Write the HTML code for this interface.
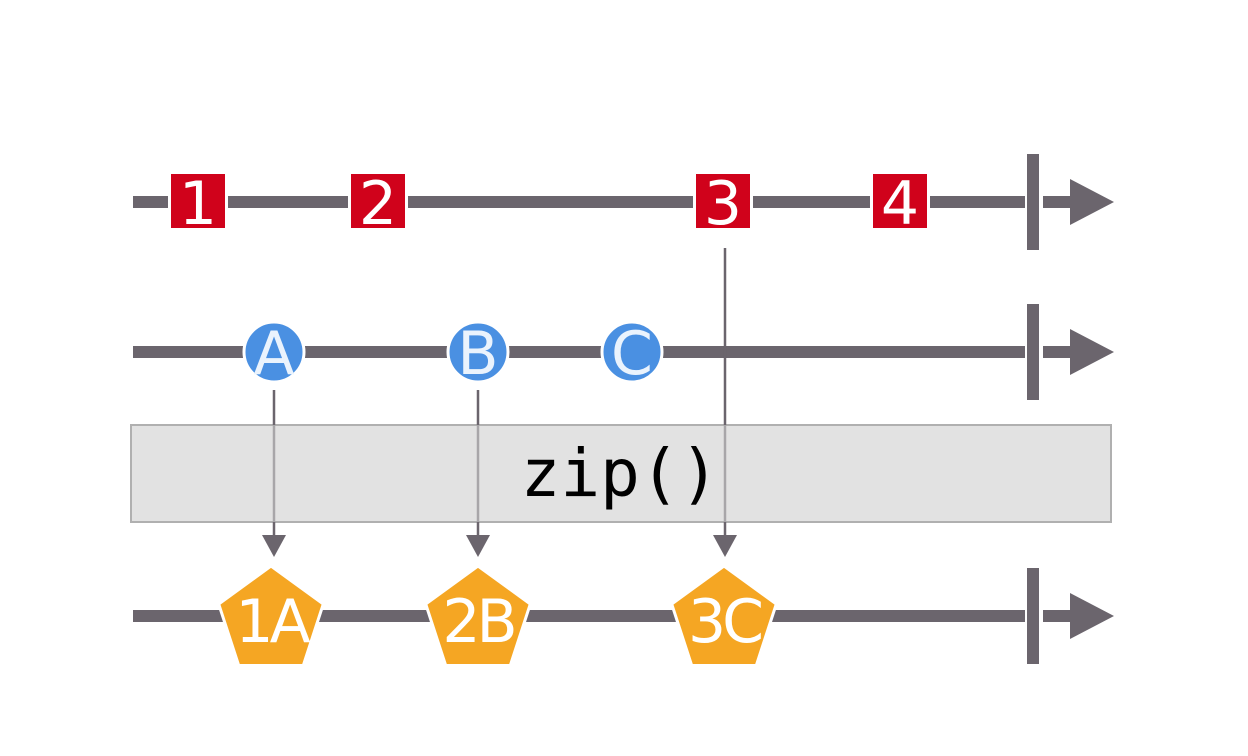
<!DOCTYPE html>
<html><head><meta charset="utf-8"><style>
html,body{margin:0;padding:0;background:#fff}
svg{display:block}
text{font-family:"DejaVu Sans","Liberation Sans",sans-serif}
</style></head><body>
<svg id="chart" width="1248" height="756" viewBox="0 0 1248 756">
</svg>
<script>
const numberLabels=['1','2','3','4'];
const numberTimes=[198,378,723,900];
const letterLabels=['A','B','C'];
const letterTimes=[274,478,632];
const resultLabels=['1A','2B','3C'];
const resultTimes=[271,478,724];
const resultSources=[274,478,725];
const resultSourceRows=[1,1,0];
const rowsY=[202,352,616];
const NS='http://www.w3.org/2000/svg';
const svg=document.getElementById('chart');
function mk(t,a,p){const e=document.createElementNS(NS,t);for(const k in a)e.setAttribute(k,a[k]);(p||svg).appendChild(e);return e;}
function timeline(y,name){
  const g=mk('g',{});
  
  
  mk('rect',{x:133,y:y-6,width:892,height:12,fill:'#6b656d'},g);
  mk('rect',{x:1027,y:y-48,width:12,height:96,fill:'#6b656d'},g);
  mk('rect',{x:1043,y:y-6,width:30,height:12,fill:'#6b656d'},g);
  mk('polygon',{points:`1070,${y-23} 1114,${y} 1070,${y+23}`,fill:'#6b656d'},g);
}
timeline(rowsY[0],'numbers-timeline');
timeline(rowsY[1],'letters-timeline');
timeline(rowsY[2],'output-timeline');
const box=mk('rect',{x:131,y:425,width:980,height:97,fill:'#e2e2e2',stroke:'#b0b0b0','stroke-width':2});


const bt=mk('text',{x:620,y:496,'text-anchor':'middle','font-size':66,fill:'#000',style:'font-family:"DejaVu Sans Mono","Liberation Mono",monospace'});
bt.textContent='zip()';


resultSources.forEach((sx,i)=>{
  const y0=resultSourceRows[i]===0?rowsY[0]+46:rowsY[1]+38;
  const g=mk('g',{});
  
  
  mk('line',{x1:sx,y1:y0,x2:sx,y2:425,stroke:'#6b656d','stroke-width':2.5},g);
  mk('line',{x1:sx,y1:425,x2:sx,y2:522,stroke:'#a8a6a9','stroke-width':2.5},g);
  mk('line',{x1:sx,y1:522,x2:sx,y2:540,stroke:'#6b656d','stroke-width':2.5},g);
  mk('polygon',{points:`${sx-12},535 ${sx+12},535 ${sx},557`,fill:'#6b656d'},g);
});
numberTimes.forEach((x,i)=>{
  const g=mk('g',{});
  
  
  mk('rect',{x:x-30,y:rowsY[0]-30,width:60,height:60,fill:'#fff'},g);
  mk('rect',{x:x-27,y:rowsY[0]-28,width:54,height:54,fill:'#d0021b'},g);
  const t=mk('text',{x:x,y:rowsY[0]+22,'text-anchor':'middle','font-size':60,fill:'#fff'},g);
  t.textContent=numberLabels[i];
});
letterTimes.forEach((x,i)=>{
  const g=mk('g',{});
  
  
  mk('circle',{cx:x,cy:rowsY[1],r:30,fill:'#4a90e2',stroke:'#fff','stroke-width':3},g);
  const t=mk('text',{x:x,y:rowsY[1]+22,'text-anchor':'middle','font-size':60,fill:'#eaf3fd'},g);
  t.textContent=letterLabels[i];
});
resultTimes.forEach((x,i)=>{
  const g=mk('g',{});
  
  
  const R=55,cy=rowsY[2]+5;let pts=[];
  for(let k=0;k<5;k++){const a=-Math.PI/2+k*2*Math.PI/5;pts.push((x+R*Math.cos(a)).toFixed(1)+','+(cy+R*Math.sin(a)).toFixed(1));}
  mk('polygon',{points:pts.join(' '),fill:'#f5a623',stroke:'#fff','stroke-width':3},g);
  const t=mk('text',{x:x,y:rowsY[2]+26,'text-anchor':'middle','font-size':60,fill:'#fff','letter-spacing':-4},g);
  t.textContent=resultLabels[i];
});
</script>
</body></html>
